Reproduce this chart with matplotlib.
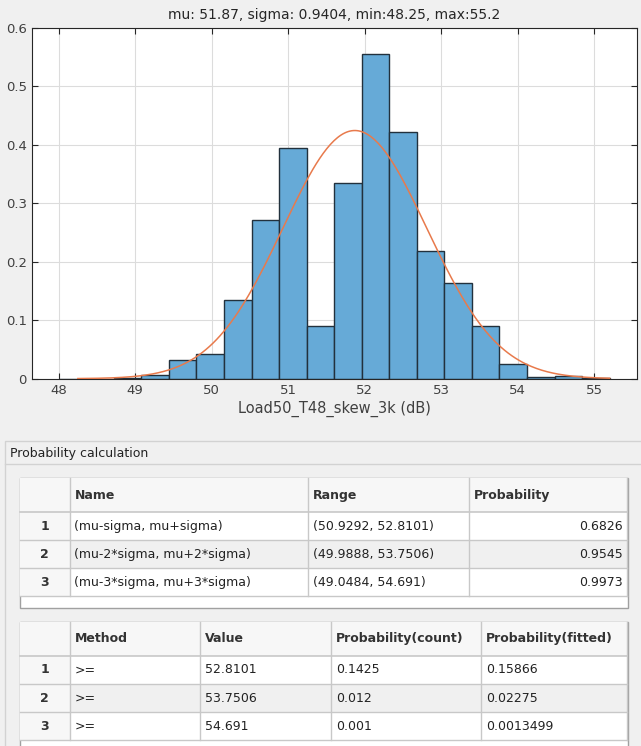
import numpy as np
import matplotlib
matplotlib.use("Agg")
import matplotlib.pyplot as plt
from matplotlib.patches import Rectangle

plt.rcParams['font.family'] = ['DejaVu Sans']

# histogram (pdf normalisation)
bin_edges = [48.0, 48.36, 48.72, 49.08, 49.44, 49.8, 50.16, 50.52, 50.88, 51.24,
             51.6, 51.96, 52.32, 52.68, 53.04, 53.4, 53.76, 54.12, 54.48, 54.84, 55.2]
bin_heights = [0.0, 0.0, 0.0014, 0.0063, 0.0319, 0.0416, 0.1338, 0.271, 0.394, 0.0894,
               0.334, 0.5545, 0.4212, 0.218, 0.1628, 0.0894, 0.0245, 0.0023, 0.004, 0.0008]

mu = 51.87
sigma = 0.9404
x_min = 48.25
x_max = 55.2
x_label = "Load50_T48_skew_3k (dB)"

xticks = [48, 49, 50, 51, 52, 53, 54, 55]
yticks = [0, 0.1, 0.2, 0.3, 0.4, 0.5, 0.6]

# tables
t1_cols = ["Name", "Range", "Probability"]
t1_names = ["(mu-sigma, mu+sigma)", "(mu-2*sigma, mu+2*sigma)", "(mu-3*sigma, mu+3*sigma)"]
t1_ranges = ["(50.9292, 52.8101)", "(49.9888, 53.7506)", "(49.0484, 54.691)"]
t1_probs = ["0.6826", "0.9545", "0.9973"]

t2_cols = ["Method", "Value", "Probability(count)", "Probability(fitted)"]
t2_methods = [">=", ">=", ">="]
t2_values = ["52.8101", "53.7506", "54.691"]
t2_count = ["0.1425", "0.012", "0.001"]
t2_fitted = ["0.15866", "0.02275", "0.0013499"]

W, H = 641, 746
fig = plt.figure(figsize=(W / 100, H / 100), dpi=100)
fig.patch.set_facecolor('#f0f0f0')

# ---- histogram axes
ax = fig.add_axes([31.7 / W, 1 - 378.7 / H, 605 / W, 351 / H])
ax.bar(bin_edges[:-1], bin_heights, width=np.diff(bin_edges), align='edge',
       color='#66aad7', edgecolor='#22313d', linewidth=1.0, zorder=2)
# fitted normal curve from the mu / sigma in the title
xs = np.linspace(x_min, x_max, 300)
pdf = np.exp(-0.5 * ((xs - mu) / sigma) ** 2) / (sigma * np.sqrt(2 * np.pi))
ax.plot(xs, pdf, color='#e87a4c', linewidth=1.1, zorder=3)

ax.set_xlim(47.647, 55.554)
ax.set_ylim(0, 0.6)
ax.set_xticks(xticks)
ax.set_yticks(yticks)
ax.set_yticklabels(['0', '0.1', '0.2', '0.3', '0.4', '0.5', '0.6'])
ax.grid(True, color='#dcdcdc', linewidth=0.8, zorder=0)
ax.set_axisbelow(True)
ax.tick_params(direction='in', top=True, right=True, length=4, width=0.8,
               colors='#262626', labelsize=9.5, labelcolor='#404040')
for s in ax.spines.values():
    s.set_color('#262626')
    s.set_linewidth(0.8)
ax.set_title(f"mu: {mu}, sigma: {sigma}, min:{x_min}, max:{x_max}",
             fontsize=10, color='#262626', pad=6)
ax.set_xlabel(x_label, fontsize=10.5, color='#404040', labelpad=3)

# ---- panel with tables (pixel coordinates)
ov = fig.add_axes([0, 0, 1, 1], zorder=-1)
ov.set_xlim(0, W)
ov.set_ylim(H, 0)
ov.axis('off')

ov.add_patch(Rectangle((5, 441), 640, 320, facecolor='#f0f0f0', edgecolor='#d2d2d2', lw=1))
ov.plot([5, W], [464.3, 464.3], color='#d2d2d2', lw=1)
ov.text(10, 453, "Probability calculation", fontsize=9, color='#222222', va='center')

txt_col = '#222222'
line_col = '#c8c8c8'


def draw_table(top, bottom, col_x, header_h, row_h, headers, rows, aligns):
    left, right = 19.6, 628.4
    ov.add_patch(Rectangle((left, top), right - left, bottom - top,
                           facecolor='white', edgecolor='#a0a0a0', lw=1, zorder=1))
    ov.add_patch(Rectangle((left, top), right - left - 1.7, header_h,
                           facecolor='#f7f7f7', edgecolor='none', zorder=1))
    y = top + header_h
    for i, row in enumerate(rows):
        bg = '#f0f0f0' if i == 1 else 'white'
        ov.add_patch(Rectangle((col_x[0], y), col_x[-1] - col_x[0], row_h,
                               facecolor=bg, edgecolor='none', zorder=1))
        ov.add_patch(Rectangle((left, y), col_x[0] - left, row_h,
                               facecolor='#f7f7f7', edgecolor='none', zorder=1))
        y += row_h
    # lines
    y = top + header_h
    ov.plot([left, col_x[-1]], [y, y], color=line_col, lw=1.2, zorder=2)
    for i in range(len(rows)):
        y += row_h
        ov.plot([left, col_x[-1]], [y, y], color=line_col, lw=1, zorder=2)
    y_end = min(top + header_h + row_h * len(rows), bottom)
    for cx in col_x:
        ov.plot([cx, cx], [top, y_end], color=line_col, lw=1, zorder=2)
    # header text
    for j, h in enumerate(headers):
        ov.text(col_x[j] + 5, top + header_h / 2, h, fontsize=9, fontweight='bold',
                color='#333333', va='center', zorder=3)
    # body text
    y = top + header_h
    for i, row in enumerate(rows):
        yc = y + row_h / 2
        ov.text((left + col_x[0]) / 2, yc, str(i + 1), fontsize=9, fontweight='bold',
                color='#333333', ha='center', va='center', zorder=3)
        for j, val in enumerate(row):
            if aligns[j] == 'right':
                ov.text(col_x[j + 1] - 4, yc, val, fontsize=9, color=txt_col,
                        ha='right', va='center', zorder=3)
            else:
                ov.text(col_x[j] + 5, yc, val, fontsize=9, color=txt_col,
                        ha='left', va='center', zorder=3)
        y += row_h


rows1 = list(zip(t1_names, t1_ranges, t1_probs))
draw_table(478.3, 608.3, [69.5, 308.3, 468.5, 626.7], 34, 28, t1_cols, rows1,
           ['left', 'left', 'right'])

rows2 = list(zip(t2_methods, t2_values, t2_count, t2_fitted))
draw_table(621.7, 760, [69.5, 200.3, 331.2, 481.2, 626.7], 34, 28.2, t2_cols, rows2,
           ['left', 'left', 'left', 'left'])

fig.savefig("out.png", dpi=100, facecolor=fig.get_facecolor())
